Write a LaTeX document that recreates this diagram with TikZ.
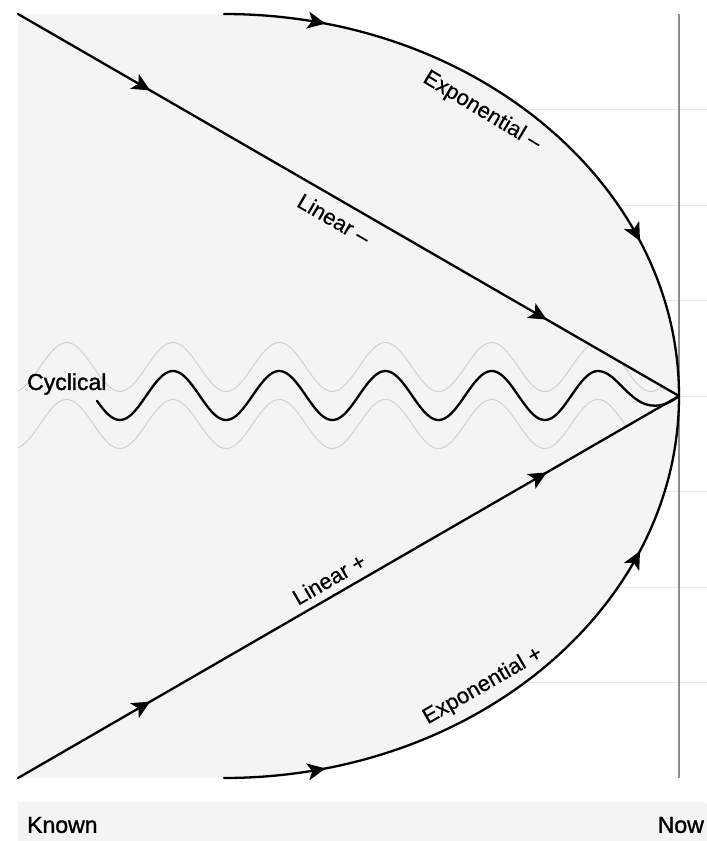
\documentclass[tikz,border=0pt]{standalone}
\usepackage{fontspec}
\setmainfont{Liberation Sans}
\newfontfamily\regfont{Liberation Sans}[FakeBold=0.4]
\newfontfamily\medfont{Liberation Sans}[FakeBold=1.4]
\usetikzlibrary{arrows.meta,decorations.markings}
\definecolor{fillgray}{HTML}{F4F4F4}
\definecolor{gridgray}{HTML}{E8E8E8}
\definecolor{wavegray}{HTML}{D0D0D0}
\definecolor{axisgray}{HTML}{8C8C8C}
\tikzset{
  flowtip/.tip={Stealth[length=18pt,width=17pt,inset=4.5pt]},
  flow/.style={draw=black, line width=2.3pt, line cap=round, postaction={decorate}},
  twoarrows/.style 2 args={decoration={markings,
      mark=at position #1 with {\arrow{flowtip}},
      mark=at position #2 with {\arrow{flowtip}}}},
  lbl/.style={font=\regfont\fontsize{22}{26}\selectfont, inner sep=0pt},
  medlbl/.style={font=\medfont\fontsize{23}{27}\selectfont, inner sep=0pt},
  gridline/.style={draw=gridgray, line width=1pt},
  ghostwave/.style={draw=wavegray, line width=1pt},
  mainwave/.style={draw=black, line width=2.3pt, line cap=round, line join=round},
}
\begin{document}
\begin{tikzpicture}[x=1pt,y=-1pt]
\useasboundingbox (0,0) rectangle (707,841);
% key points
\coordinate (tl) at (18,14);
\coordinate (bl) at (18,778);
\coordinate (ta) at (224,14);
\coordinate (ba) at (224,778);
\coordinate (now) at (679,396);
\coordinate (vtop) at (679,14);
\coordinate (vbot) at (679,778);
% grid lines behind
\foreach \k in {1,...,7}{
  \draw[gridline] (18,{14+95.5*\k}) -- (707,{14+95.5*\k});
}
% background shape
\fill[fillgray] (tl) -- (ta) arc[start angle=-90, end angle=0, x radius=455, y radius=382]
  arc[start angle=0, end angle=90, x radius=455, y radius=382] -- (bl) -- cycle;
% ghost waves clipped to the triangle
\begin{scope}
  \clip (tl) -- (now) -- (bl) -- cycle;
  \draw[ghostwave] plot[domain=18:679, samples=260, smooth] (\x, {367-24.5*sin(3.38824*(\x-146.4))});
  \draw[ghostwave] plot[domain=18:679, samples=260, smooth] (\x, {424-24.5*sin(3.38824*(\x-146.4))});
\end{scope}
% vertical "now" line
\draw[draw=axisgray, line width=1.5pt] (vtop) -- (vbot);
% main wave
\draw[mainwave] plot[domain=97:598, samples=220, smooth] (\x, {395.5-24.5*sin(3.38824*(\x-146.4))})
  .. controls (614,371) and (626,397) .. (645,404)
  .. controls (660,409) and (671,402) .. (now);
% linear lines
\draw[flow, twoarrows={0.2}{0.8}] (tl) -- (now);
\draw[flow, twoarrows={0.2}{0.8}] (bl) -- (now);
% exponential arcs
\draw[flow, twoarrows={0.155}{0.755}] (ta) arc[start angle=-90, end angle=0, x radius=455, y radius=382];
\draw[flow, twoarrows={0.155}{0.755}] (ba) arc[start angle=90, end angle=0, x radius=455, y radius=382];
% labels
\node[lbl, rotate=-31] (expm) at (482,111) {Exponential –};
\node[lbl, rotate=-30] (linm) at (334,219) {Linear –};
\node[lbl, rotate=30] (linp) at (329,579) {Linear +};
\node[lbl, rotate=30] (expp) at (483,686) {Exponential +};
\node[medlbl, anchor=west] (cyc) at (27,384) {Cyclical};
% bottom bar
\fill[fillgray] (18,841) -- (18,802) [rounded corners=4pt] -- (707,802) [sharp corners] -- (707,841) -- cycle;
\node[medlbl, anchor=west] (known) at (27,825) {Known};
\node[medlbl, anchor=east] (nowlbl) at (704,825) {Now};
\end{tikzpicture}
\end{document}
